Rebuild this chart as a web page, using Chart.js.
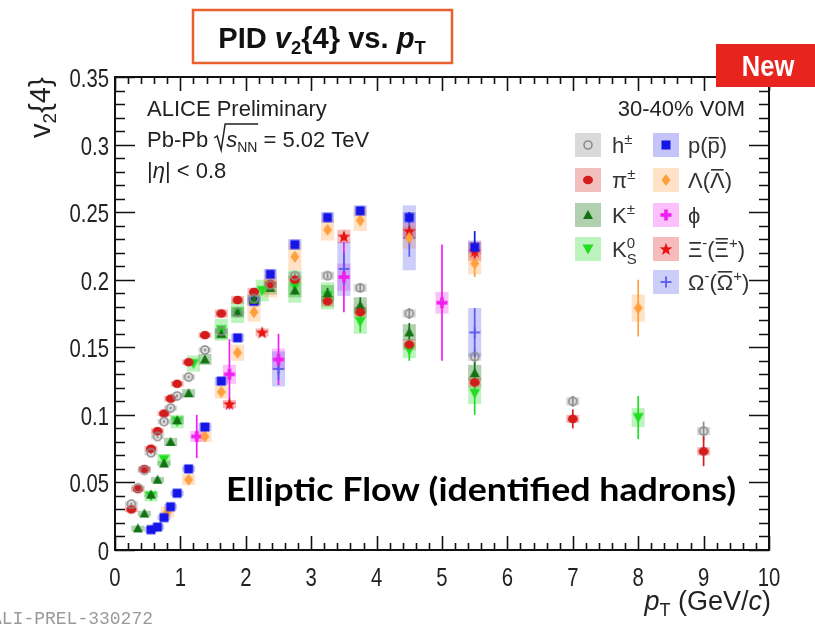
<!DOCTYPE html>
<html>
<head>
<meta charset="utf-8">
<script src="https://cdn.jsdelivr.net/npm/chart.js@4.4.0/dist/chart.umd.min.js"></script>
<style>
  html, body { margin: 0; padding: 0; background: #fff; }
  #wrap { width: 815px; height: 628px; position: relative; }
</style>
</head>
<body>
<div id="wrap"><canvas id="c"></canvas></div>
<script>
// ---- data (v2{4} vs pT, 30-40%) ----
const hPt   = [0.25,0.35,0.45,0.55,0.65,0.75,0.85,0.95,1.125,1.375,1.625,1.875,2.125,2.375,2.75,3.25,3.75,4.5,5.5,7,9];
const hV2   = [0.034,0.046,0.059,0.072,0.084,0.095,0.105,0.114,0.128,0.148,0.162,0.176,0.186,0.196,0.203,0.203,0.194,0.175,0.143,0.110,0.088];
const hStat = [0.001,0.001,0.001,0.001,0.001,0.001,0.001,0.001,0.001,0.001,0.001,0.001,0.001,0.002,0.002,0.002,0.003,0.004,0.006,0.004,0.007];
const hSys  = [0.002,0.002,0.002,0.002,0.002,0.002,0.002,0.002,0.002,0.002,0.002,0.002,0.002,0.002,0.003,0.003,0.003,0.003,0.003,0.003,0.003];

const piPt   = [0.25,0.35,0.45,0.55,0.65,0.75,0.85,0.95,1.125,1.375,1.625,1.875,2.125,2.375,2.75,3.25,3.75,4.5,5.5,7,9];
const piV2   = [0.030,0.045,0.060,0.075,0.088,0.101,0.112,0.123,0.139,0.159,0.175,0.185,0.191,0.197,0.200,0.184,0.176,0.152,0.124,0.097,0.073];
const piStat = [0.001,0.001,0.001,0.001,0.001,0.001,0.001,0.001,0.001,0.001,0.001,0.001,0.001,0.002,0.002,0.002,0.003,0.003,0.004,0.007,0.011];
const piSys  = [0.002,0.002,0.002,0.002,0.002,0.002,0.002,0.002,0.002,0.002,0.003,0.003,0.003,0.003,0.003,0.004,0.004,0.004,0.004,0.003,0.003];

const kPt   = [0.35,0.45,0.55,0.65,0.75,0.85,0.95,1.125,1.375,1.625,1.875,2.125,2.375,2.75,3.25,3.75,4.5,5.5];
const kV2   = [0.016,0.027,0.041,0.052,0.064,0.080,0.096,0.116,0.141,0.160,0.176,0.185,0.194,0.192,0.190,0.181,0.161,0.131];
const kStat = [0.001,0.001,0.001,0.001,0.001,0.001,0.001,0.001,0.002,0.002,0.002,0.002,0.003,0.003,0.004,0.006,0.007,0.008];
const kSys  = [0.002,0.002,0.002,0.002,0.002,0.003,0.003,0.003,0.004,0.004,0.004,0.004,0.005,0.005,0.006,0.006,0.006,0.006];

const k0Pt   = [0.55,0.75,0.95,1.2,1.625,1.875,2.25,2.75,3.25,3.75,4.5,5.5,8];
const k0V2   = [0.040,0.067,0.095,0.138,0.163,0.176,0.192,0.195,0.188,0.169,0.148,0.116,0.098];
const k0Stat = [0.001,0.001,0.002,0.002,0.002,0.002,0.003,0.003,0.004,0.008,0.008,0.016,0.016];
const k0Sys  = [0.004,0.004,0.005,0.006,0.008,0.008,0.008,0.012,0.010,0.009,0.006,0.008,0.007];

const pPt   = [0.55,0.65,0.75,0.85,0.95,1.125,1.375,1.625,1.875,2.125,2.375,2.75,3.25,3.75,4.5,5.5];
const pV2   = [0.015,0.017,0.024,0.032,0.042,0.060,0.091,0.125,0.157,0.184,0.204,0.226,0.246,0.251,0.246,0.224];
const pStat = [0.001,0.001,0.001,0.001,0.001,0.001,0.001,0.002,0.002,0.002,0.002,0.002,0.003,0.003,0.004,0.012];
const pSys  = [0.002,0.002,0.002,0.002,0.002,0.002,0.003,0.003,0.003,0.003,0.004,0.004,0.004,0.004,0.004,0.005];

const lamPt   = [0.8,1.125,1.375,1.625,1.875,2.125,2.375,2.75,3.25,3.75,4.5,5.5,8];
const lamV2   = [0.028,0.052,0.084,0.117,0.146,0.176,0.195,0.217,0.237,0.244,0.231,0.212,0.179];
const lamStat = [0.002,0.002,0.002,0.002,0.002,0.002,0.003,0.003,0.003,0.004,0.006,0.010,0.021];
const lamSys  = [0.004,0.004,0.004,0.005,0.006,0.007,0.008,0.010,0.008,0.008,0.008,0.008,0.010];

const phiPt   = [1.25,1.75,2.5,3.5,5.0];
const phiV2   = [0.084,0.130,0.141,0.202,0.183];
const phiStat = [0.016,0.026,0.019,0.026,0.043];
const phiSys  = [0.004,0.007,0.008,0.010,0.008];

const xiPt   = [1.75,2.25,3.5,4.5,5.5];
const xiV2   = [0.108,0.161,0.232,0.236,0.221];
const xiStat = [0.002,0.002,0.003,0.004,0.006];
const xiSys  = [0.003,0.003,0.005,0.006,0.007];

const omPt   = [2.5,3.5,4.5,5.5];
const omV2   = [0.134,0.208,0.231,0.161];
const omStat = [0.008,0.012,0.014,0.018];
const omSys  = [0.013,0.020,0.024,0.018];

const xTicks = [0,1,2,3,4,5,6,7,8,9,10];
const xTickLabels = ['0','1','2','3','4','5','6','7','8','9','10'];
const yTicks = [0,0.05,0.1,0.15,0.2,0.25,0.3,0.35];
const yTickLabels = ['0','0.05','0.1','0.15','0.2','0.25','0.3','0.35'];

// ---- marker glyphs (drawn once, used as pointStyle and in the legend) ----
function mk(draw) {
  const c = document.createElement('canvas');
  c.width = 14; c.height = 14;
  const g = c.getContext('2d');
  draw(g, 7, 7);
  return c;
}
function poly(g, pts) { g.beginPath(); pts.forEach((p, i) => i ? g.lineTo(p[0], p[1]) : g.moveTo(p[0], p[1])); g.closePath(); g.fill(); }

const M = {
  h: mk((g, x, y) => { g.strokeStyle = '#8c8c8c'; g.lineWidth = 1.6; g.beginPath(); g.arc(x, y, 4, 0, 7); g.stroke(); }),
  pi: mk((g, x, y) => { g.fillStyle = '#d41c1c'; g.beginPath(); g.ellipse(x, y, 5, 4.3, 0, 0, 7); g.fill(); }),
  k: mk((g, x, y) => { g.fillStyle = '#137313'; poly(g, [[x, y - 5], [x + 5, y + 4], [x - 5, y + 4]]); }),
  k0: mk((g, x, y) => { g.fillStyle = '#22dd22'; poly(g, [[x - 5.5, y - 4.5], [x + 5.5, y - 4.5], [x, y + 5.5]]); }),
  p: mk((g, x, y) => { g.fillStyle = '#1515e8'; g.fillRect(x - 4.5, y - 4.5, 9, 9); }),
  lam: mk((g, x, y) => { g.fillStyle = '#ffa03c'; poly(g, [[x, y - 6], [x + 4.5, y], [x, y + 6], [x - 4.5, y]]); }),
  phi: mk((g, x, y) => { g.fillStyle = '#f01ef0'; g.fillRect(x - 5.5, y - 1.8, 11, 3.6); g.fillRect(x - 1.8, y - 5.5, 3.6, 11); }),
  xi: mk((g, x, y) => {
    g.fillStyle = '#e81414';
    const pts = [];
    for (let i = 0; i < 10; i++) {
      const r = i % 2 ? 2.8 : 6.8, a = -Math.PI / 2 + i * Math.PI / 5;
      pts.push([x + r * Math.cos(a), y + 0.5 + r * Math.sin(a)]);
    }
    poly(g, pts);
  }),
  om: mk((g, x, y) => { g.fillStyle = '#5a5af0'; g.fillRect(x - 5.5, y - 0.9, 11, 1.8); g.fillRect(x - 0.9, y - 5.5, 1.8, 11); })
};

const pts = (xs, ys) => xs.map((x, i) => ({ x, y: ys[i] }));

function series(label, xs, ys, stat, sys, marker, color, boxColor) {
  return {
    label, data: pts(xs, ys), stat, sys, color, boxColor,
    pointStyle: marker, pointRadius: 6, pointHoverRadius: 6,
    showLine: false
  };
}

const datasets = [
  series('h', hPt, hV2, hStat, hSys, M.h, '#8c8c8c', 'rgba(150,150,150,0.35)'),
  series('pi', piPt, piV2, piStat, piSys, M.pi, '#d41c1c', 'rgba(220,70,70,0.35)'),
  series('K', kPt, kV2, kStat, kSys, M.k, '#137313', 'rgba(30,120,30,0.35)'),
  series('K0S', k0Pt, k0V2, k0Stat, k0Sys, M.k0, '#22dd22', 'rgba(50,220,50,0.32)'),
  series('p', pPt, pV2, pStat, pSys, M.p, '#1515e8', 'rgba(70,70,240,0.32)'),
  series('Lambda', lamPt, lamV2, lamStat, lamSys, M.lam, '#ffa03c', 'rgba(255,165,80,0.32)'),
  series('phi', phiPt, phiV2, phiStat, phiSys, M.phi, '#f01ef0', 'rgba(245,60,245,0.32)'),
  series('Xi', xiPt, xiV2, xiStat, xiSys, M.xi, '#e81414', 'rgba(230,60,60,0.35)'),
  series('Omega', omPt, omV2, omStat, omSys, M.om, '#5a5af0', 'rgba(100,100,235,0.32)')
];

const BOX_HW = 0.1; // half width of the systematic boxes, in GeV/c
const FONT = "'Liberation Sans', Arial, sans-serif";

// text with sub/superscripts: parts = [{t, f, dy, na (no advance), ol (overline)}]
function rich(ctx, x, y, parts, align) {
  let total = 0;
  parts.forEach(p => { ctx.font = p.f; p.w = ctx.measureText(p.t).width; if (!p.na) total += p.w; });
  let cx = align === 'right' ? x - total : align === 'center' ? x - total / 2 : x;
  ctx.textAlign = 'left';
  ctx.textBaseline = 'alphabetic';
  parts.forEach(p => {
    ctx.font = p.f;
    ctx.fillStyle = p.c || '#222';
    ctx.fillText(p.t, cx, y + (p.dy || 0));
    if (p.ol) ctx.fillRect(cx + 1, y + (p.dy || 0) - p.ol, p.w - 2, 1.6);
    if (!p.na) cx += p.w;
  });
}

// horizontally condensed text (the ROOT labels look narrow)
function narrow(ctx, text, x, y, sx) {
  ctx.save();
  ctx.translate(x, y);
  ctx.scale(sx, 1);
  ctx.fillText(text, 0, 0);
  ctx.restore();
}

const rootStyle = {
  id: 'rootStyle',
  beforeDatasetsDraw(chart) {
    const { ctx, scales: { x, y } } = chart;
    ctx.save();
    chart.data.datasets.forEach(ds => {
      ctx.fillStyle = ds.boxColor;
      ds.data.forEach((pt, i) => {
        const x0 = x.getPixelForValue(pt.x - BOX_HW), x1 = x.getPixelForValue(pt.x + BOX_HW);
        const y0 = y.getPixelForValue(pt.y + ds.sys[i]), y1 = y.getPixelForValue(pt.y - ds.sys[i]);
        ctx.fillRect(x0, y0, x1 - x0, Math.max(y1 - y0, 3));
      });
    });
    chart.data.datasets.forEach(ds => {
      ctx.strokeStyle = ds.color;
      ctx.lineWidth = 1.7;
      ds.data.forEach((pt, i) => {
        const px = x.getPixelForValue(pt.x);
        ctx.beginPath();
        ctx.moveTo(px, y.getPixelForValue(pt.y - ds.stat[i]));
        ctx.lineTo(px, y.getPixelForValue(pt.y + ds.stat[i]));
        ctx.stroke();
      });
    });
    ctx.restore();
  },
  afterDraw(chart) {
    const { ctx, chartArea: a, scales: { x, y } } = chart;
    ctx.save();

    // frame and ticks on all four sides
    ctx.strokeStyle = '#111';
    ctx.lineWidth = 2;
    ctx.strokeRect(a.left, a.top, a.right - a.left, a.bottom - a.top);
    ctx.lineWidth = 1.6;
    ctx.beginPath();
    for (let i = 0; i <= 50; i++) {
      const v = i * 0.2, px = Math.round(x.getPixelForValue(v)) + 0.5;
      const len = i % 5 === 0 ? 14 : 7;
      ctx.moveTo(px, a.bottom); ctx.lineTo(px, a.bottom - len);
      ctx.moveTo(px, a.top); ctx.lineTo(px, a.top + len);
    }
    for (let i = 0; i <= 35; i++) {
      const v = i * 0.01, py = Math.round(y.getPixelForValue(v)) + 0.5;
      const len = i % 5 === 0 ? 20 : 10;
      ctx.moveTo(a.left, py); ctx.lineTo(a.left + len, py);
      ctx.moveTo(a.right, py); ctx.lineTo(a.right - len, py);
    }
    ctx.stroke();

    // tick labels
    ctx.fillStyle = '#222';
    ctx.font = '26px ' + FONT;
    ctx.textBaseline = 'alphabetic';
    const SX = 0.78;
    ctx.textAlign = 'center';
    xTicks.forEach((v, i) => narrow(ctx, xTickLabels[i], x.getPixelForValue(v), a.bottom + 36, SX));
    ctx.textAlign = 'right';
    yTicks.forEach((v, i) => narrow(ctx, yTickLabels[i], a.left - 6, y.getPixelForValue(v) + 10, SX));

    // axis titles
    const f26 = '27px ' + FONT, f18 = '18px ' + FONT;
    rich(ctx, a.right + 2, 610, [
      { t: 'p', f: 'italic ' + f26 }, { t: 'T', f: f18, dy: 6 }, { t: ' (GeV/', f: f26 }, { t: 'c', f: 'italic ' + f26 }, { t: ')', f: f26 }
    ], 'right');
    ctx.save();
    ctx.translate(50, 138);
    ctx.rotate(-Math.PI / 2);
    rich(ctx, 0, 0, [{ t: 'v', f: '29px ' + FONT }, { t: '2', f: '19px ' + FONT, dy: 6 }, { t: '{4}', f: '29px ' + FONT }], 'left');
    ctx.restore();

    // header texts
    const f22 = '22px ' + FONT, f15 = '15px ' + FONT, f14 = '14px ' + FONT;
    rich(ctx, 147, 116, [{ t: 'ALICE Preliminary', f: f22 }]);
    rich(ctx, 147, 147, [{ t: 'Pb-Pb', f: f22 }]);
    ctx.font = f22;
    const sx = 147 + ctx.measureText('Pb-Pb').width + 6;
    // square root sign
    ctx.strokeStyle = '#222';
    ctx.lineWidth = 1.5;
    ctx.beginPath();
    ctx.moveTo(sx, 138); ctx.lineTo(sx + 3, 136); ctx.lineTo(sx + 7, 150); ctx.lineTo(sx + 11, 124); ctx.lineTo(sx + 44, 124);
    ctx.stroke();
    rich(ctx, sx + 12, 147, [
      { t: 's', f: 'italic ' + f22 }, { t: 'NN', f: f14, dy: 5 }, { t: ' = 5.02 TeV', f: f22 }
    ]);
    rich(ctx, 147, 178, [{ t: '|', f: f22 }, { t: 'η', f: 'italic ' + f22 }, { t: '| < 0.8', f: f22 }]);
    rich(ctx, 745, 116, [{ t: '30-40% V0M', f: f22 }], 'right');

    // legend
    const rows = [145, 180, 215, 249, 282];
    const sup = { f: f15, dy: -9 }, sub = { f: f15, dy: 5 };
    const legend = [
      { col: 0, row: 0, ds: 0, parts: [{ t: 'h', f: f22 }, { t: '±', ...sup }] },
      { col: 0, row: 1, ds: 1, parts: [{ t: 'π', f: f22 }, { t: '±', ...sup }] },
      { col: 0, row: 2, ds: 2, parts: [{ t: 'K', f: f22 }, { t: '±', ...sup }] },
      { col: 0, row: 3, ds: 3, parts: [{ t: 'K', f: f22 }, { t: '0', ...sup, na: true }, { t: 'S', ...sub, dy: 7 }] },
      { col: 1, row: 0, ds: 4, parts: [{ t: 'p(', f: f22 }, { t: 'p', f: f22, ol: 16 }, { t: ')', f: f22 }] },
      { col: 1, row: 1, ds: 5, parts: [{ t: 'Λ(', f: f22 }, { t: 'Λ', f: f22, ol: 19 }, { t: ')', f: f22 }] },
      { col: 1, row: 2, ds: 6, parts: [{ t: 'ϕ', f: f22 }] },
      { col: 1, row: 3, ds: 7, parts: [{ t: 'Ξ', f: f22 }, { t: '-', ...sup }, { t: '(', f: f22 }, { t: 'Ξ', f: f22, ol: 19 }, { t: '+', ...sup }, { t: ')', f: f22 }] },
      { col: 1, row: 4, ds: 8, parts: [{ t: 'Ω', f: f22 }, { t: '-', ...sup }, { t: '(', f: f22 }, { t: 'Ω', f: f22, ol: 19 }, { t: '+', ...sup }, { t: ')', f: f22 }] }
    ];
    const boxX = [575, 653], textX = [612, 688];
    legend.forEach(e => {
      const ds = chart.data.datasets[e.ds], cy = rows[e.row];
      ctx.fillStyle = ds.boxColor;
      ctx.fillRect(boxX[e.col], cy - 12, 26, 24);
      ctx.drawImage(ds.pointStyle, boxX[e.col] + 13 - 7, cy - 7);
      rich(ctx, textX[e.col], cy + 8, e.parts.map(p => ({ ...p, c: '#333' })));
    });

    // title box
    ctx.strokeStyle = '#e8602c';
    ctx.lineWidth = 2.5;
    ctx.strokeRect(193, 10, 259, 53);
    const fb = 'bold 30px ' + FONT, fbs = 'bold 19px ' + FONT;
    ctx.save();
    ctx.translate(322, 48);
    ctx.scale(0.97, 1);
    rich(ctx, 0, 0, [
      { t: 'PID ', f: fb }, { t: 'v', f: 'italic ' + fb }, { t: '2', f: fbs, dy: 6 }, { t: '{4} vs. ', f: fb },
      { t: 'p', f: 'italic ' + fb }, { t: 'T', f: fbs, dy: 6 }
    ].map(p => ({ ...p, c: '#111' })), 'center');
    ctx.restore();

    // "New" badge
    ctx.fillStyle = '#e8241f';
    ctx.fillRect(716, 44, 99, 43);
    ctx.fillStyle = '#fff';
    ctx.font = 'bold 30px ' + FONT;
    ctx.textAlign = 'center';
    narrow(ctx, 'New', 768, 76, 0.85);

    // overlay caption
    ctx.fillStyle = '#000';
    ctx.font = 'bold 33px Lato, sans-serif';
    ctx.textAlign = 'left';
    const cap = 'Elliptic Flow (identified hadrons)';
    narrow(ctx, cap, 226, 501, 510 / ctx.measureText(cap).width);

    // preliminary id
    ctx.fillStyle = '#9a9a9a';
    ctx.font = '18px "Liberation Mono", monospace';
    ctx.textAlign = 'right';
    ctx.fillText('ALI-PREL-330272', 153, 624);

    ctx.restore();
  }
};

new Chart(document.getElementById('c'), {
  type: 'scatter',
  data: { datasets },
  options: {
    responsive: true,
    maintainAspectRatio: false,
    animation: false,
    layout: { padding: { left: 115, right: 46, top: 77, bottom: 78 } },
    plugins: { legend: { display: false }, tooltip: { enabled: false } },
    scales: {
      x: { type: 'linear', min: 0, max: 10, display: false },
      y: { type: 'linear', min: 0, max: 0.35, display: false }
    }
  },
  plugins: [rootStyle]
});
</script>
</body>
</html>
